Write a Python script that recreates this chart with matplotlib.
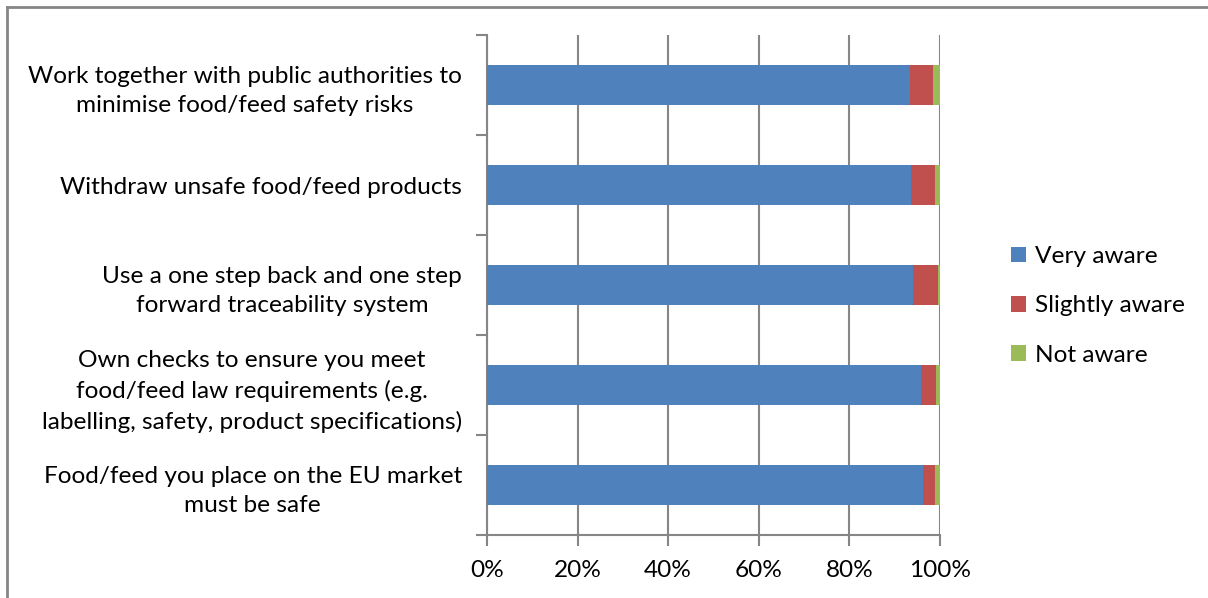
import matplotlib
matplotlib.use("Agg")
import matplotlib.pyplot as plt
from matplotlib.lines import Line2D
from matplotlib.patches import Patch

categories = [
    "Food/feed you place on the EU market\nmust be safe",
    "Own checks to ensure you meet\nfood/feed law requirements (e.g.\nlabelling, safety, product specifications)",
    "Use a one step back and one step\nforward traceability system",
    "Withdraw unsafe food/feed products",
    "Work together with public authorities to\nminimise food/feed safety risks",
]
very_aware = [96.3, 95.9, 94.1, 93.7, 93.3]
slightly_aware = [2.6, 3.3, 5.5, 5.3, 5.2]
not_aware = [1.1, 0.8, 0.4, 1.0, 1.5]
series_names = ["Very aware", "Slightly aware", "Not aware"]
colors = ["#4F81BD", "#C0504D", "#9BBB59"]
xticks = [0, 20, 40, 60, 80, 100]
xtick_labels = ["0%", "20%", "40%", "60%", "80%", "100%"]

plt.rcParams['font.family'] = ['Lato', 'DejaVu Sans']
FS = 17.6

fig = plt.figure(figsize=(12.08, 5.98), dpi=100)
ax = fig.add_axes([487/1208, 1 - 535/598, 453/1208, 500/598])

y = list(range(len(categories)))
left = [0] * len(categories)
for vals, name, c in zip([very_aware, slightly_aware, not_aware], series_names, colors):
    ax.barh(y, vals, left=left, height=0.4, color=c, label=name, zorder=3,
            edgecolor='none')
    left = [a + b for a, b in zip(left, vals)]

ax.set_xlim(0, 100)
ax.set_ylim(-0.5, 4.5)
ax.set_xticks(xticks)
ax.set_xticklabels(xtick_labels, fontsize=FS)
ax.set_yticks(y)
ax.set_yticklabels(categories, fontsize=FS, linespacing=1.5)
for lab in ax.get_yticklabels():
    lab.set_ha('right')
    lab.set_multialignment('center')
ax.set_yticks([i - 0.5 for i in range(len(categories) + 1)], minor=True)
ax.tick_params(axis='y', which='major', length=0, pad=18)
ax.tick_params(axis='y', which='minor', length=8, color='#868686', width=1.5, direction='out')
ax.tick_params(axis='x', which='major', length=8, color='#868686', width=1.5, direction='out', pad=10)

ax.grid(axis='x', color='#868686', linewidth=1.5, zorder=0)
for s in ['top', 'right']:
    ax.spines[s].set_visible(False)
for s in ['left', 'bottom']:
    ax.spines[s].set_color('#868686')
    ax.spines[s].set_linewidth(1.5)

handles = [Patch(facecolor=c, edgecolor='none') for c in colors]
leg = fig.legend(handles, series_names, loc='center left', bbox_to_anchor=(1011/1208, 1 - 306/598),
                 frameon=False, fontsize=FS, handlelength=0.6, handleheight=0.6,
                 handletextpad=0.4, labelspacing=1.16, borderpad=0, borderaxespad=0)

# outer chart border (left and top)
fig.add_artist(Line2D([6.5/1208, 6.5/1208], [0, 1 - 6.5/598], transform=fig.transFigure,
                      color='#868686', linewidth=2))
fig.add_artist(Line2D([6.5/1208, 1], [1 - 6.5/598, 1 - 6.5/598], transform=fig.transFigure,
                      color='#868686', linewidth=2))

fig.savefig("out.png", dpi=100)
